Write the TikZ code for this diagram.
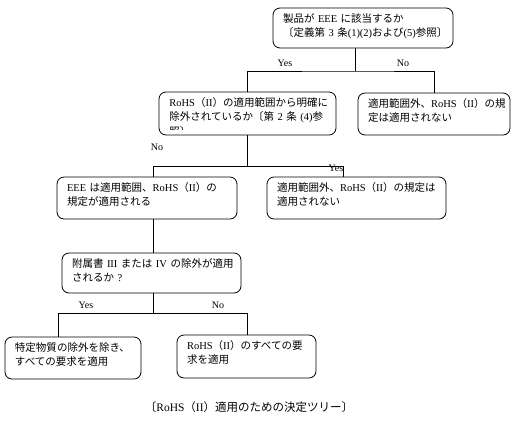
\documentclass[tikz,border=0pt]{standalone}
\usepackage{fontspec}
\setmainfont{Liberation Serif}
\newfontfamily\jpfont{Noto Sans CJK JP}
\newcommand{\serif}[1]{{\rmfamily #1}}

\begin{document}
\begin{tikzpicture}[
    x=1bp,
    y=-1bp,
    every node/.style={
        font=\jpfont\fontsize{10.5bp}{14.3bp}\selectfont
    },
    treebox/.style={
        rectangle,
        rounded corners=7bp,
        draw=black,
        line width=0.8bp,
        align=left,
        inner xsep=10bp,
        inner ysep=4bp,
        text height=10bp
    },
    branchlabel/.style={
        font=\rmfamily\fontsize{10bp}{12bp}\selectfont,
        inner sep=0pt
    },
    treeline/.style={
        draw=black,
        line width=0.8bp
    }
]

\useasboundingbox (0,0) rectangle (520,422);

% ==========================================================
% Question 1
% ==========================================================
\node[
    treebox,
    text width=160bp,
    text depth=22bp
] (eee) at (363,28) {
    製品が~\serif{EEE}~に該当するか\\
    〔定義第~\serif{3}~条\serif{(1)(2)}および\serif{(5)}参照〕
};

% ==========================================================
% Question 2 and out of scope
% ==========================================================
\node[
    treebox,
    text width=157bp,
    text depth=25bp,
    path picture={
        \clip (path picture bounding box.north west)
            rectangle ([yshift=6bp]path picture bounding box.south east);
        \node[
            anchor=north west,
            draw=none,
            inner sep=0pt,
            text width=157bp,
            text height=10bp,
            align=left
        ] (excludedtext) at ([xshift=10bp,yshift=-4bp]path picture bounding box.north west) {
            \serif{RoHS}（\serif{II}）の適用範囲から明確に\\
            除外されているか〔第~\serif{2}~条~\serif{(4)}参\\
            照〕
        };
    }
] (excluded) at (247.5,113.5) {};

\node[
    treebox,
    text width=132bp,
    text depth=24bp
] (outofscope1) at (434,114) {
    適用範囲外、\serif{RoHS}（\serif{II}）の規\\
    定は適用されない
};

% ==========================================================
% In scope / out of scope
% ==========================================================
\node[
    treebox,
    text width=160bp,
    text depth=24bp
] (inscope) at (147,198) {
    \serif{EEE}~は適用範囲、\serif{RoHS}（\serif{II}）の\\
    規定が適用される
};

\node[
    treebox,
    text width=159bp,
    text depth=24bp
] (outofscope2) at (356.5,198) {
    適用範囲外、\serif{RoHS}（\serif{II}）の規定は\\
    適用されない
};

% ==========================================================
% Question 3 and results
% ==========================================================
\node[
    treebox,
    text width=159bp,
    text depth=22bp
] (annex) at (151.5,273) {
    附属書~\serif{III}~または~\serif{IV}~の除外が適用\\
    されるか~\serif{?}
};

\node[
    treebox,
    text width=116bp,
    text depth=24bp
] (applyexcept) at (73,358) {
    特定物質の除外を除き、\\
    すべての要求を適用
};

\node[
    treebox,
    text width=119bp,
    text depth=25bp
] (applyall) at (246.5,356.5) {
    \serif{RoHS}（\serif{II}）のすべての要\\
    求を適用
};

% ==========================================================
% Branch labels and caption
% ==========================================================
\node[branchlabel] (yes1) at (285,63) {Yes};
\node[branchlabel] (no1) at (403,63) {No};
\node[branchlabel] (no2) at (157,147) {No};
\node[branchlabel] (yes2) at (336,168) {Yes};
\node[branchlabel] (yes3) at (86,305) {Yes};
\node[branchlabel] (no3) at (218,305) {No};

\node[
    font=\jpfont\fontsize{11.5bp}{14bp}\selectfont
] (caption) at (249,407) {
    〔\serif{RoHS}（\serif{II}）適用のための決定ツリー〕
};

% ==========================================================
% Tree lines
% ==========================================================
\coordinate (j1) at (355,71);
\coordinate (j2l) at (153,166);
\coordinate (j2r) at (343,166);
\coordinate (j3l) at (58,313);
\coordinate (j3r) at (247,313);

\draw[treeline] (j1 |- eee.south) -- (j1);
\draw[treeline] (excluded.north) |- (j1) -| (outofscope1.north);

\draw[treeline] (excluded.south) -- (excluded.south |- j2l);
\draw[treeline]
    (j2l |- inscope.north) -- (j2l) -- (j2r) -- (j2r |- outofscope2.north);

\draw[treeline] (j2l |- inscope.south) -- (j2l |- annex.north);
\draw[treeline] (j2l |- annex.south) -- (j2l |- j3l);
\draw[treeline]
    (j3l |- applyexcept.north) -- (j3l) -- (j3r) -- (j3r |- applyall.north);

\end{tikzpicture}
\end{document}
